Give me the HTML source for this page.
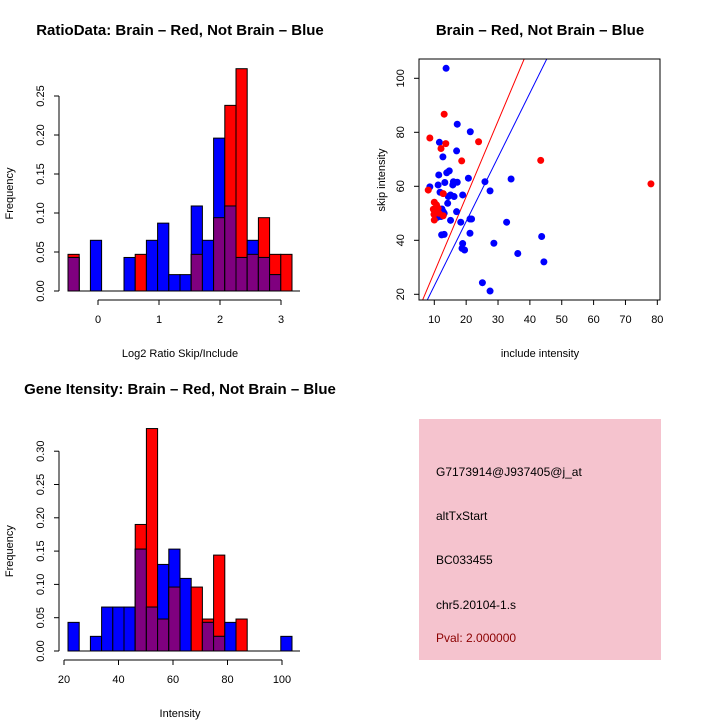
<!DOCTYPE html>
<html><head><meta charset="utf-8"><style>
body{margin:0;background:#fff}
svg{display:block;font-family:"Liberation Sans",sans-serif}
text{font-size:11px}
.t{font-size:15px;font-weight:bold}
</style></head><body>
<svg id="s" width="720" height="720" viewBox="0 0 720 720">
</svg>
<script>
// Ratio histogram data
const ratioStart = -0.49, ratioBin = 0.1835;
const ratioRed  = [0.047,0,0,0,0,0,0.047,0,0,0,0,0.047,0,0.094,0.238,0.285,0.047,0.094,0.047,0.047];
const ratioBlue = [0.043,0,0.065,0,0,0.043,0,0.065,0.087,0.021,0.021,0.109,0.065,0.196,0.109,0.043,0.065,0.043,0.021,0];
const ratioXTicks = [0,1,2,3];
const ratioYTicks = ["0.00","0.05","0.10","0.15","0.20","0.25"];
// Intensity histogram data
const intStart = 21.5, intBin = 4.1;
const intRed  = [0,0,0,0,0,0,0.19,0.334,0.048,0.096,0,0.096,0.048,0.144,0,0.048,0,0,0,0];
const intBlue = [0.043,0,0.022,0.066,0.066,0.066,0.153,0.066,0.13,0.153,0.109,0,0.043,0.022,0.043,0,0,0,0,0.022];
const intXTicks = [20,40,60,80,100];
const intYTicks = ["0.00","0.05","0.10","0.15","0.20","0.25","0.30"];
// Scatter data
const blueX = [13.7,17.2,21.3,11.6,17,12.7,13.9,14.7,11.4,20.7,34.1,25.9,13.3,16,17.2,15.8,11.2,8.6,11.8,27.5,18.9,15.1,16.2,14.4,14.2,12.4,12.8,13.1,17,10.9,12.1,15.1,18.3,21.2,21.7,32.7,12.3,13.1,21.2,43.7,18.9,18.7,19.5,28.7,36.2,44.4,25.1,27.5];
const blueY = [103.7,83,80.2,76.3,73.1,70.9,65,65.7,64.2,63,62.7,61.7,61.4,61.7,61.5,60.5,60.5,59.8,57.8,58.3,56.8,56.8,56.2,56.2,53.7,51.6,50.6,50,50.6,48.5,48.8,47.4,46.7,47.9,47.9,46.7,42,42.2,42.6,41.4,38.8,37,36.4,38.9,35.1,32,24.3,21.2];
const redX = [13.1,8.6,13.6,12.1,23.9,18.6,43.4,78,8.1,12.8,10,10.7,11.2,9.7,10.5,9.9,11.5,10,12.8];
const redY = [86.7,77.9,75.8,74,76.5,69.4,69.6,60.9,58.6,57.3,54.1,53.1,51.9,51.5,50.6,49.6,50,47.5,49.1];
const redLine = [0.15,2.8];   // intercept, slope
const blueLine = [-0.66,2.38];
const scXTicks = [10,20,30,40,50,60,70,80];
const scYTicks = [20,40,60,80,100];

const S=document.getElementById('s'),NS='http://www.w3.org/2000/svg';
function el(tag,attrs,parent,txt){const e=document.createElementNS(NS,tag);for(const k in attrs)e.setAttribute(k,attrs[k]);if(txt!=null)e.textContent=txt;(parent||S).appendChild(e);return e;}
function grp(name){const g=el('g',{});return g;}

function hist(name,start,bin,red,blue,xt,yt,ax,base,ppu,xa,xb,xaxisY,title,titleY,xtitle,xtitleY){
  const g=grp(name);
  const xs=v=>xa+(v-xt[0])/(xt[xt.length-1]-xt[0])*(xb-xa);
  const Y=v=>base-v*ppu;
  for(let i=0;i<red.length;i++){
    const x0=68+i*11.2, r=red[i], b=blue[i], m=Math.min(r,b);
    if(r>0){const e=el('rect',{x:x0,y:Y(r),width:11.2,height:r*ppu,fill:'#f00',stroke:'#000','stroke-width':1},g);}
    if(b>0){const e=el('rect',{x:x0,y:Y(b),width:11.2,height:b*ppu,fill:'#00f',stroke:'#000','stroke-width':1},g);}
    if(m>0){const e=el('rect',{x:x0,y:Y(m),width:11.2,height:m*ppu,fill:'#7f007f',stroke:'#000','stroke-width':1},g);}
  }
  el('line',{x1:68,x2:300,y1:base,y2:base,stroke:'#000'},g);
  const ya=grp(name+'-y-axis');
  const yv=yt.map(Number);
  el('line',{x1:59,x2:59,y1:Y(yv[0]),y2:Y(yv[yv.length-1]),stroke:'#000'},ya);
  yv.forEach((v,i)=>{el('line',{x1:54,x2:59,y1:Y(v),y2:Y(v),stroke:'#000'},ya);
    el('text',{x:0,y:0,transform:`translate(44 ${Y(v)}) rotate(-90)`,'text-anchor':'middle'},ya,yt[i]);});
  el('text',{x:0,y:0,transform:`translate(13 ${(base+Y(yv[yv.length-1]))/2}) rotate(-90)`,'text-anchor':'middle'},ya,'Frequency');
  const xg=grp(name+'-x-axis');
  el('line',{x1:xs(xt[0]),x2:xs(xt[xt.length-1]),y1:xaxisY,y2:xaxisY,stroke:'#000'},xg);
  xt.forEach(v=>{el('line',{x1:xs(v),x2:xs(v),y1:xaxisY,y2:xaxisY+5,stroke:'#000'},xg);
    el('text',{x:xs(v),y:xaxisY+23,'text-anchor':'middle'},xg,String(v));});
  el('text',{x:180,y:xtitleY,'text-anchor':'middle'},xg,xtitle);
  const t=el('text',{x:180,y:titleY,'text-anchor':'middle',class:'t'},S,title);
  
}
hist('ratio-histogram',ratioStart,ratioBin,ratioRed,ratioBlue,ratioXTicks,ratioYTicks,59,291,780,98,281,300,'RatioData: Brain \u2013 Red, Not Brain \u2013 Blue',35,'Log2 Ratio Skip/Include',357);
hist('intensity-histogram',intStart,intBin,intRed,intBlue,intXTicks,intYTicks,59,651,666,64,282,660,'Gene Itensity: Brain \u2013 Red, Not Brain \u2013 Blue',394,'Intensity',717);

(function(){
  const g=grp('scatter-plot');
  const L=419,R=660,T=59,B=300;
  const X=v=>434.3+(v-10)*3.186;
  const Y=v=>78.3+(100-v)*2.7;
  const cp=el('clipPath',{id:'cp'},g);el('rect',{x:L,y:T,width:R-L,height:B-T},cp);
  [[redLine,'#f00','red-fit-line'],[blueLine,'#00f','blue-fit-line']].forEach(([ln,c,n])=>{
    const x1=0,x2=60;
    const e=el('line',{x1:X(x1),x2:X(x2),y1:Y(ln[0]+ln[1]*x1),y2:Y(ln[0]+ln[1]*x2),stroke:c,'stroke-width':1,'clip-path':'url(#cp)'},g);
    
  });
  blueX.forEach((v,i)=>{const e=el('circle',{cx:X(v),cy:Y(blueY[i]),r:3.5,fill:'#00f'},g);});
  redX.forEach((v,i)=>{const e=el('circle',{cx:X(v),cy:Y(redY[i]),r:3.5,fill:'#f00'},g);});
  el('rect',{x:L,y:T,width:R-L,height:B-T,fill:'none',stroke:'#000'},g);
  const xg=grp('scatter-x-axis');
  scXTicks.forEach(v=>{el('line',{x1:X(v),x2:X(v),y1:B,y2:B+5,stroke:'#000'},xg);el('text',{x:X(v),y:B+23,'text-anchor':'middle'},xg,String(v));});
  el('text',{x:540,y:357,'text-anchor':'middle'},xg,'include intensity');
  const yg=grp('scatter-y-axis');
  scYTicks.forEach(v=>{el('line',{x1:L-5,x2:L,y1:Y(v),y2:Y(v),stroke:'#000'},yg);el('text',{x:0,y:0,transform:`translate(404 ${Y(v)}) rotate(-90)`,'text-anchor':'middle'},yg,String(v));});
  el('text',{x:0,y:0,transform:`translate(385 180) rotate(-90)`,'text-anchor':'middle'},yg,'skip intensity');
  const t=el('text',{x:540,y:35,'text-anchor':'middle',class:'t'},S,'Brain \u2013 Red, Not Brain \u2013 Blue');
  
})();
</script>
<div style="position:absolute;left:419px;top:419px;width:242px;height:241px;background:#f5c3ce;font-family:'Liberation Sans',sans-serif;font-size:12px">
<div style="position:absolute;left:17px;top:46px">G7173914@J937405@j_at</div>
<div style="position:absolute;left:17px;top:90px">altTxStart</div>
<div style="position:absolute;left:17px;top:134px">BC033455</div>
<div style="position:absolute;left:17px;top:179px">chr5.20104-1.s</div>
<div style="position:absolute;left:17px;top:212px;color:#8b0000">Pval: 2.000000</div>
</div>
</body></html>
